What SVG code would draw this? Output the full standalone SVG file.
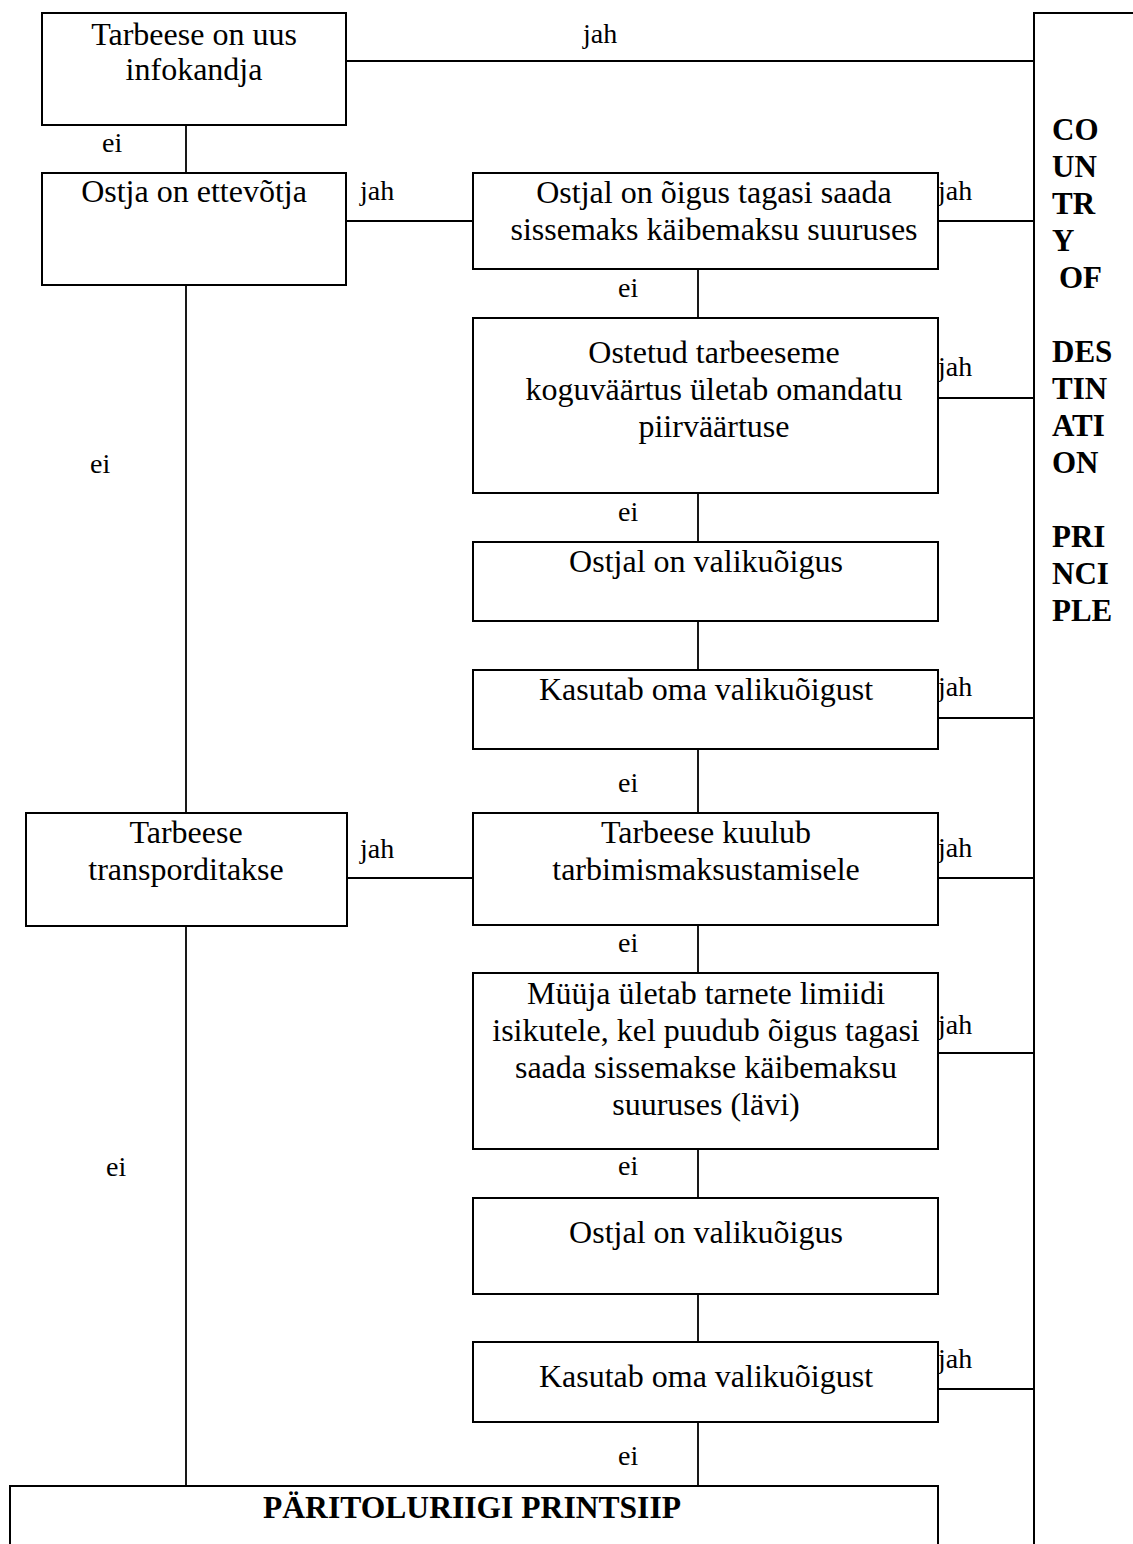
<svg xmlns="http://www.w3.org/2000/svg" width="1133" height="1544" viewBox="0 0 1133 1544">
<style>
.box{fill:#fff;stroke:#000;stroke-width:2}
.ln{fill:none;stroke:#000;stroke-width:1.8}
.t{font-family:"Liberation Serif","Times New Roman",serif;font-size:32px;fill:#000;text-anchor:middle}
.lb{font-family:"Liberation Serif","Times New Roman",serif;font-size:28px;fill:#000}
.b{font-family:"Liberation Serif","Times New Roman",serif;font-size:31px;font-weight:bold;fill:#000}
</style>
<rect width="1133" height="1544" fill="#fff"/>
<g id="connectors">
<path class="ln" d="M186 125V173M186 285V813M186 926V1486"/>
<path class="ln" d="M698 269V318M698 493V542M698 621V670M698 749V813M698 925V973M698 1149V1198M698 1294V1342M698 1422V1486"/>
<path class="ln" d="M346 61H1034M346 221H473M938 221H1034M938 398H1034M938 718H1034M347 878H473M938 878H1034M938 1053H1034M938 1389H1034"/>
<g class="lb">
<text x="583" y="43">jah</text>
<text x="102" y="152">ei</text>
<text x="360" y="200">jah</text>
<text x="938" y="200">jah</text>
<text x="618" y="297">ei</text>
<text x="938" y="376">jah</text>
<text x="90" y="473">ei</text>
<text x="618" y="521">ei</text>
<text x="938" y="696">jah</text>
<text x="618" y="792">ei</text>
<text x="360" y="858">jah</text>
<text x="938" y="857">jah</text>
<text x="618" y="952">ei</text>
<text x="938" y="1034">jah</text>
<text x="618" y="1175">ei</text>
<text x="106" y="1176">ei</text>
<text x="938" y="1368">jah</text>
<text x="618" y="1465">ei</text>
</g>
</g>
<g id="n1"><rect class="box" x="42" y="13" width="304" height="112"/><text class="t" x="194" y="45">Tarbeese on uus</text><text class="t" x="194" y="80">infokandja</text></g>
<g id="n2"><rect class="box" x="42" y="173" width="304" height="112"/><text class="t" x="194" y="202">Ostja on ettevõtja</text></g>
<g id="n3"><rect class="box" x="473" y="173" width="465" height="96"/><text class="t" x="714" y="203">Ostjal on õigus tagasi saada</text><text class="t" x="714" y="240">sissemaks käibemaksu suuruses</text></g>
<g id="n4"><rect class="box" x="473" y="318" width="465" height="175"/><text class="t" x="714" y="363">Ostetud tarbeeseme</text><text class="t" x="714" y="400">koguväärtus ületab omandatu</text><text class="t" x="714" y="437">piirväärtuse</text></g>
<g id="n5"><rect class="box" x="473" y="542" width="465" height="79"/><text class="t" x="706" y="572">Ostjal on valikuõigus</text></g>
<g id="n6"><rect class="box" x="473" y="670" width="465" height="79"/><text class="t" x="706" y="700">Kasutab oma valikuõigust</text></g>
<g id="n7"><rect class="box" x="26" y="813" width="321" height="113"/><text class="t" x="186" y="843">Tarbeese</text><text class="t" x="186" y="880">transporditakse</text></g>
<g id="n8"><rect class="box" x="473" y="813" width="465" height="112"/><text class="t" x="706" y="843">Tarbeese kuulub</text><text class="t" x="706" y="880">tarbimismaksustamisele</text></g>
<g id="n9"><rect class="box" x="473" y="973" width="465" height="176"/><text class="t" x="706" y="1004">Müüja ületab tarnete limiidi</text><text class="t" x="706" y="1041">isikutele, kel puudub õigus tagasi</text><text class="t" x="706" y="1078">saada sissemakse käibemaksu</text><text class="t" x="706" y="1115">suuruses (lävi)</text></g>
<g id="n10"><rect class="box" x="473" y="1198" width="465" height="96"/><text class="t" x="706" y="1243">Ostjal on valikuõigus</text></g>
<g id="n11"><rect class="box" x="473" y="1342" width="465" height="80"/><text class="t" x="706" y="1387">Kasutab oma valikuõigust</text></g>
<g id="n12"><rect class="box" x="10" y="1486" width="928" height="100"/><text class="b" x="472" y="1518" text-anchor="middle" font-size="33" textLength="418" lengthAdjust="spacingAndGlyphs">PÄRITOLURIIGI PRINTSIIP</text></g>
<g id="n13"><rect class="box" x="1034" y="13" width="200" height="1600"/>
<g class="b">
<text x="1052" y="140">CO</text>
<text x="1052" y="177">UN</text>
<text x="1052" y="214">TR</text>
<text x="1052" y="251">Y</text>
<text x="1059" y="288">OF</text>
<text x="1052" y="362">DES</text>
<text x="1052" y="399">TIN</text>
<text x="1052" y="436">ATI</text>
<text x="1052" y="473">ON</text>
<text x="1052" y="547">PRI</text>
<text x="1052" y="584">NCI</text>
<text x="1052" y="621">PLE</text>
</g></g>
</svg>
